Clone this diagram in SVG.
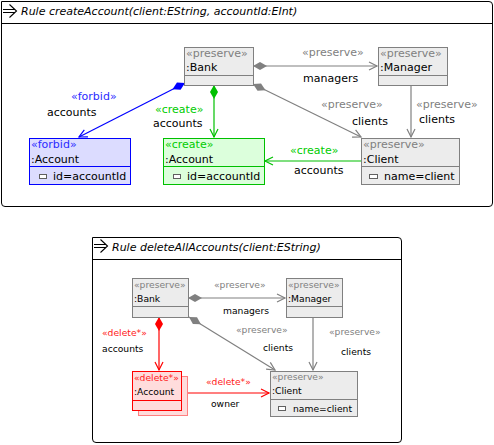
<svg xmlns="http://www.w3.org/2000/svg" width="494" height="445" viewBox="0 0 494 445">
<style>
text{font-family:"DejaVu Sans","Liberation Sans",sans-serif;font-size:11px;fill:#000}
.s{font-size:9.2px}
.title{font-style:italic}
.frame{fill:#fff;stroke:#000;stroke-width:1}
.n{fill:#ececec;stroke:#808080;stroke-width:1}
.nf{fill:#dcdcff;stroke:#0000ff}
.nc{fill:#dcffdc;stroke:#00c000}
.nd{fill:#ffdcdc;stroke:#ff0000}
.sh{fill:#ffdcdc;stroke:#ff8080}
.gp{fill:#808080}
.gb{fill:#2b2bff}
.gg{fill:#00cc00}
.gr{fill:#ff2020}
.icon{fill:#fff;stroke:#606060;stroke-width:1}
.e{fill:none;stroke-width:1.2}
.eg{stroke:#808080}
.eb{stroke:#0000ff}
.ec{stroke:#00c000}
.er{stroke:#ff0000}
</style>
<defs>
<marker id="ag" markerUnits="userSpaceOnUse" markerWidth="12" markerHeight="12" viewBox="-10 -6 12 12" refX="0" refY="0" orient="auto"><path d="M-8,-4 L0,0 L-8,4" fill="none" stroke="#808080" stroke-width="1.2"/></marker>
<marker id="ab" markerUnits="userSpaceOnUse" markerWidth="12" markerHeight="12" viewBox="-10 -6 12 12" refX="0" refY="0" orient="auto"><path d="M-8,-4 L0,0 L-8,4" fill="none" stroke="#0000ff" stroke-width="1.2"/></marker>
<marker id="ac" markerUnits="userSpaceOnUse" markerWidth="12" markerHeight="12" viewBox="-10 -6 12 12" refX="0" refY="0" orient="auto"><path d="M-8,-4 L0,0 L-8,4" fill="none" stroke="#00c000" stroke-width="1.2"/></marker>
<marker id="ar" markerUnits="userSpaceOnUse" markerWidth="12" markerHeight="12" viewBox="-10 -6 12 12" refX="0" refY="0" orient="auto"><path d="M-8,-4 L0,0 L-8,4" fill="none" stroke="#ff0000" stroke-width="1.2"/></marker>
<marker id="dg" markerUnits="userSpaceOnUse" markerWidth="16" markerHeight="10" viewBox="-1 -5 16 10" refX="0" refY="0" orient="auto"><path d="M0,0 L7,-4 L14,0 L7,4 Z" fill="#808080"/></marker>
<marker id="db" markerUnits="userSpaceOnUse" markerWidth="16" markerHeight="10" viewBox="-1 -5 16 10" refX="0" refY="0" orient="auto"><path d="M0,0 L7,-4 L14,0 L7,4 Z" fill="#0000ff"/></marker>
<marker id="dc" markerUnits="userSpaceOnUse" markerWidth="16" markerHeight="10" viewBox="-1 -5 16 10" refX="0" refY="0" orient="auto"><path d="M0,0 L7,-4 L14,0 L7,4 Z" fill="#00c000"/></marker>
<marker id="dr" markerUnits="userSpaceOnUse" markerWidth="16" markerHeight="10" viewBox="-1 -5 16 10" refX="0" refY="0" orient="auto"><path d="M0,0 L7,-4 L14,0 L7,4 Z" fill="#ff0000"/></marker>
</defs>

<!-- Frame 1 -->
<g id="rule-createAccount">
<path class="frame" d="M1.5,1.5 H489 Q492.5,1.5 492.5,5 V203 Q492.5,206.5 489,206.5 H5 Q1.5,206.5 1.5,203 Z"/>
<line x1="1.5" y1="23.5" x2="492.5" y2="23.5" stroke="#000"/>
<path d="M3,9.5 H15 M3,12.5 H15 M9.5,4.5 L16.5,11 L9.5,17.5" fill="none" stroke="#000" stroke-width="1.1"/>
<text class="title" x="21" y="15">Rule createAccount(client:EString, accountId:EInt)</text>
</g>

<!-- Frame 2 -->
<g id="rule-deleteAllAccounts">
<path class="frame" d="M92.5,237.5 H398 Q401.5,237.5 401.5,241 V439 Q401.5,442.5 398,442.5 H96 Q92.5,442.5 92.5,439 Z"/>
<line x1="92.5" y1="259.5" x2="401.5" y2="259.5" stroke="#000"/>
<path d="M94,244.5 H106 M94,247.5 H106 M100.5,239.5 L107.5,246 L100.5,252.5" fill="none" stroke="#000" stroke-width="1.1"/>
<text class="title" x="112" y="251">Rule deleteAllAccounts(client:EString)</text>
</g>

<!-- Connectors -->
<g id="connectors">
<path class="e eg" d="M253,66 H377" marker-start="url(#dg)" marker-end="url(#ag)"/>
<path class="e eg" d="M253,84 L361,137" marker-start="url(#dg)" marker-end="url(#ag)"/>
<path class="e eg" d="M411,85 V137" marker-end="url(#ag)"/>
<path class="e eb" d="M185,83 L79,137" marker-start="url(#db)" marker-end="url(#ab)"/>
<path class="e ec" d="M214,85 V137" marker-start="url(#dc)" marker-end="url(#ac)"/>
<path class="e ec" d="M361,161 H265" marker-end="url(#ac)"/>

<path class="e eg" d="M188,298 H285" marker-start="url(#dg)" marker-end="url(#ag)"/>
<path class="e eg" d="M189,317 L275,370" marker-start="url(#dg)" marker-end="url(#ag)"/>
<path class="e eg" d="M313,317 V370" marker-end="url(#ag)"/>
<path class="e er" d="M159,317 V370" marker-start="url(#dr)" marker-end="url(#ar)"/>
<path class="e er" d="M187,393 H269" marker-end="url(#ar)"/>

<text class="gp" x="302" y="56">«preserve»</text>
<text x="303" y="82">managers</text>
<text class="gp" x="321" y="108">«preserve»</text>
<text x="352" y="125">clients</text>
<text class="gp" x="416" y="108">«preserve»</text>
<text x="419" y="123">clients</text>
<text class="gb" x="71" y="100">«forbid»</text>
<text x="47" y="116">accounts</text>
<text class="gg" x="155" y="113">«create»</text>
<text x="153" y="127">accounts</text>
<text class="gg" x="290" y="154">«create»</text>
<text x="294" y="174">accounts</text>

<text class="s gp" x="214" y="288">«preserve»</text>
<text class="s" x="223" y="314">managers</text>
<text class="s gp" x="236" y="333">«preserve»</text>
<text class="s" x="263" y="351">clients</text>
<text class="s gp" x="329" y="335">«preserve»</text>
<text class="s" x="341" y="355">clients</text>
<text class="s gr" x="102" y="336">«delete*»</text>
<text class="s" x="102" y="352">accounts</text>
<text class="s gr" x="206" y="385">«delete*»</text>
<text class="s" x="211" y="407">owner</text>
</g>

<!-- Nodes top -->
<g id="bank1">
<rect class="n" x="184.5" y="47.5" width="69" height="38"/>
<line x1="184.5" y1="75.5" x2="253.5" y2="75.5" stroke="#808080"/>
<text class="gp" x="186" y="57">«preserve»</text>
<text x="186" y="71">:Bank</text>
</g>
<g id="manager1">
<rect class="n" x="378.5" y="47.5" width="69" height="38"/>
<line x1="378.5" y1="75.5" x2="447.5" y2="75.5" stroke="#808080"/>
<text class="gp" x="380" y="57">«preserve»</text>
<text x="380" y="71">:Manager</text>
</g>
<g id="account-forbid">
<rect class="n nf" x="29.5" y="138.5" width="101" height="46"/>
<line x1="29.5" y1="166.5" x2="130.5" y2="166.5" stroke="#0000ff"/>
<text class="gb" x="31" y="148">«forbid»</text>
<text x="31" y="163">:Account</text>
<rect class="icon" x="39.5" y="174.5" width="7" height="4"/>
<text x="53" y="180">id=accountId</text>
</g>
<g id="account-create">
<rect class="n nc" x="163.5" y="138.5" width="101" height="46"/>
<line x1="163.5" y1="166.5" x2="264.5" y2="166.5" stroke="#00c000"/>
<text class="gg" x="165" y="148">«create»</text>
<text x="165" y="163">:Account</text>
<rect class="icon" x="173.5" y="174.5" width="7" height="4"/>
<text x="187" y="180">id=accountId</text>
</g>
<g id="client1">
<rect class="n" x="361.5" y="138.5" width="98" height="46"/>
<line x1="361.5" y1="166.5" x2="459.5" y2="166.5" stroke="#808080"/>
<text class="gp" x="363" y="148">«preserve»</text>
<text x="363" y="163">:Client</text>
<rect class="icon" x="369.5" y="174.5" width="8" height="4"/>
<text x="384" y="180">name=client</text>
</g>

<!-- Nodes bottom -->
<g id="bank2">
<rect class="n" x="132.5" y="278.5" width="56" height="39"/>
<line x1="132.5" y1="306.5" x2="188.5" y2="306.5" stroke="#808080"/>
<text class="s gp" x="134" y="288">«preserve»</text>
<text class="s" x="134" y="302">:Bank</text>
</g>
<g id="manager2">
<rect class="n" x="286.5" y="278.5" width="56" height="39"/>
<line x1="286.5" y1="306.5" x2="342.5" y2="306.5" stroke="#808080"/>
<text class="s gp" x="288" y="288">«preserve»</text>
<text class="s" x="288" y="302">:Manager</text>
</g>
<g id="account-delete">
<rect class="sh" x="138.5" y="376.5" width="49" height="39"/>
<rect class="n nd" x="132.5" y="371.5" width="49" height="39"/>
<line x1="132.5" y1="400.5" x2="181.5" y2="400.5" stroke="#ff0000"/>
<text class="s gr" x="134" y="381">«delete*»</text>
<text class="s" x="134" y="395">:Account</text>
</g>
<g id="client2">
<rect class="n" x="270.5" y="371.5" width="87" height="45"/>
<line x1="270.5" y1="399.5" x2="357.5" y2="399.5" stroke="#808080"/>
<text class="s gp" x="272" y="380">«preserve»</text>
<text class="s" x="272" y="394">:Client</text>
<rect class="icon" x="278.5" y="406.5" width="7" height="4"/>
<text class="s" x="293" y="412">name=client</text>
</g>
</svg>
